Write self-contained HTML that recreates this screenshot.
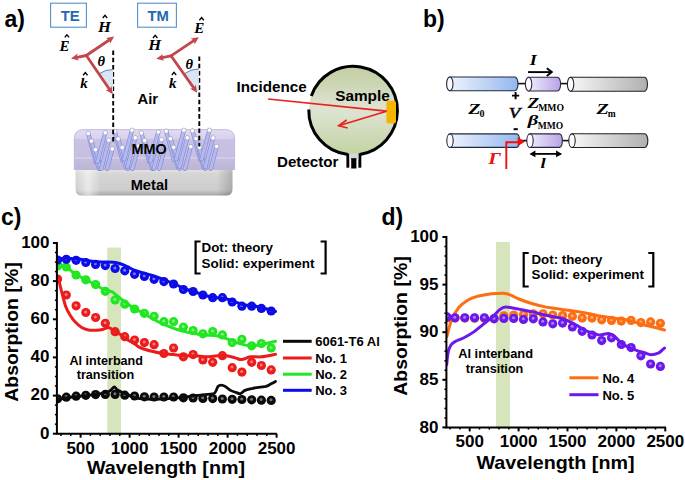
<!DOCTYPE html><html><head><meta charset="utf-8"><style>html,body{margin:0;padding:0;background:#fff;overflow:hidden}svg{display:block}</style></head><body>
<svg width="685" height="480" viewBox="0 0 685 480" font-family='"Liberation Sans", sans-serif'>
<rect width="685" height="480" fill="#fff"/>
<text x="4.5" y="27.1" font-size="23" fill="#000" font-weight="bold" text-anchor="start" >a)</text>
<text x="423" y="27.1" font-size="23" fill="#000" font-weight="bold" text-anchor="start" >b)</text>
<text x="1" y="225.4" font-size="23" fill="#000" font-weight="bold" text-anchor="start" >c)</text>
<text x="381.5" y="225.4" font-size="23" fill="#000" font-weight="bold" text-anchor="start" >d)</text>
<rect x="107.2" y="247.5" width="13.8" height="186.2" fill="#d7e5bc"/>
<defs><clipPath id="clipc"><rect x="56.4" y="230" width="232" height="210"/></clipPath><clipPath id="clipd"><rect x="445.9" y="225" width="232" height="210"/></clipPath></defs>
<g clip-path="url(#clipc)">
<circle cx="57.6" cy="398.8" r="4.6" fill="#0a0a0a"/>
<circle cx="66.3" cy="397.2" r="4.6" fill="#0a0a0a"/>
<circle cx="76.1" cy="396.2" r="4.6" fill="#0a0a0a"/>
<circle cx="85.8" cy="395.3" r="4.6" fill="#0a0a0a"/>
<circle cx="95.6" cy="394.6" r="4.6" fill="#0a0a0a"/>
<circle cx="105.3" cy="394.4" r="4.6" fill="#0a0a0a"/>
<circle cx="115.1" cy="394.4" r="4.6" fill="#0a0a0a"/>
<circle cx="124.8" cy="395.2" r="4.6" fill="#0a0a0a"/>
<circle cx="134.6" cy="396.0" r="4.6" fill="#0a0a0a"/>
<circle cx="144.4" cy="396.8" r="4.6" fill="#0a0a0a"/>
<circle cx="154.1" cy="397.0" r="4.6" fill="#0a0a0a"/>
<circle cx="163.9" cy="397.0" r="4.6" fill="#0a0a0a"/>
<circle cx="173.6" cy="397.0" r="4.6" fill="#0a0a0a"/>
<circle cx="183.4" cy="397.8" r="4.6" fill="#0a0a0a"/>
<circle cx="193.1" cy="398.0" r="4.6" fill="#0a0a0a"/>
<circle cx="202.9" cy="398.4" r="4.6" fill="#0a0a0a"/>
<circle cx="212.7" cy="398.6" r="4.6" fill="#0a0a0a"/>
<circle cx="222.4" cy="399.0" r="4.6" fill="#0a0a0a"/>
<circle cx="232.2" cy="399.3" r="4.6" fill="#0a0a0a"/>
<circle cx="241.9" cy="399.5" r="4.6" fill="#0a0a0a"/>
<circle cx="251.7" cy="399.8" r="4.6" fill="#0a0a0a"/>
<circle cx="261.4" cy="400.2" r="4.6" fill="#0a0a0a"/>
<circle cx="271.2" cy="400.4" r="4.6" fill="#0a0a0a"/>
<circle cx="57.4" cy="398.2" r="1.5" fill="#787878"/>
<circle cx="66.1" cy="396.6" r="1.5" fill="#787878"/>
<circle cx="75.9" cy="395.6" r="1.5" fill="#787878"/>
<circle cx="85.6" cy="394.7" r="1.5" fill="#787878"/>
<circle cx="95.4" cy="394.0" r="1.5" fill="#787878"/>
<circle cx="105.1" cy="393.8" r="1.5" fill="#787878"/>
<circle cx="114.9" cy="393.8" r="1.5" fill="#787878"/>
<circle cx="124.6" cy="394.6" r="1.5" fill="#787878"/>
<circle cx="134.4" cy="395.4" r="1.5" fill="#787878"/>
<circle cx="144.2" cy="396.2" r="1.5" fill="#787878"/>
<circle cx="153.9" cy="396.4" r="1.5" fill="#787878"/>
<circle cx="163.7" cy="396.4" r="1.5" fill="#787878"/>
<circle cx="173.4" cy="396.4" r="1.5" fill="#787878"/>
<circle cx="183.2" cy="397.2" r="1.5" fill="#787878"/>
<circle cx="192.9" cy="397.4" r="1.5" fill="#787878"/>
<circle cx="202.7" cy="397.8" r="1.5" fill="#787878"/>
<circle cx="212.5" cy="398.0" r="1.5" fill="#787878"/>
<circle cx="222.2" cy="398.4" r="1.5" fill="#787878"/>
<circle cx="232.0" cy="398.7" r="1.5" fill="#787878"/>
<circle cx="241.7" cy="398.9" r="1.5" fill="#787878"/>
<circle cx="251.5" cy="399.2" r="1.5" fill="#787878"/>
<circle cx="261.2" cy="399.6" r="1.5" fill="#787878"/>
<circle cx="271.0" cy="399.8" r="1.5" fill="#787878"/>
<path d="M57.5,399.5 C60.0,399.1 67.1,397.7 72.5,397.0 C77.9,396.3 84.5,395.9 90.0,395.2 C95.5,394.5 102.3,393.5 105.8,392.6 C109.3,391.7 109.6,391.0 111.0,390.0 C112.4,389.0 113.2,386.8 114.3,386.8 C115.4,386.8 115.7,388.9 117.5,390.0 C119.3,391.1 121.7,392.2 125.0,393.6 C128.3,395.0 132.9,397.2 137.3,398.2 C141.7,399.1 146.1,399.2 151.3,399.3 C156.6,399.4 163.2,399.0 168.8,398.6 C174.4,398.2 180.3,397.5 185.0,397.0 C189.7,396.5 193.2,395.9 197.0,395.5 C200.8,395.1 205.2,394.7 208.1,394.3 C211.0,393.9 213.0,394.3 214.7,393.0 C216.3,391.7 216.9,387.7 218.0,386.4 C219.1,385.1 220.1,385.1 221.3,385.1 C222.5,385.1 223.7,385.5 225.2,386.4 C226.7,387.3 228.8,389.4 230.5,390.4 C232.2,391.4 234.1,391.8 235.7,392.3 C237.3,392.9 238.8,394.0 240.3,393.7 C241.9,393.4 242.9,391.3 245.0,390.4 C247.1,389.5 250.2,388.9 252.8,388.4 C255.4,387.8 258.5,387.4 260.7,387.1 C262.9,386.8 264.2,386.9 266.0,386.4 C267.8,385.8 269.6,384.6 271.2,383.8 C272.8,383.0 274.8,381.9 275.5,381.5" fill="none" stroke="#0a0a0a" stroke-width="2.8" stroke-linejoin="round" stroke-linecap="round" />
<circle cx="57.6" cy="279.0" r="4.6" fill="#ec1c1c"/>
<circle cx="66.3" cy="295.0" r="4.6" fill="#ec1c1c"/>
<circle cx="76.1" cy="305.8" r="4.6" fill="#ec1c1c"/>
<circle cx="85.8" cy="312.5" r="4.6" fill="#ec1c1c"/>
<circle cx="95.6" cy="317.5" r="4.6" fill="#ec1c1c"/>
<circle cx="105.3" cy="323.3" r="4.6" fill="#ec1c1c"/>
<circle cx="115.1" cy="331.7" r="4.6" fill="#ec1c1c"/>
<circle cx="124.8" cy="336.7" r="4.6" fill="#ec1c1c"/>
<circle cx="134.6" cy="340.0" r="4.6" fill="#ec1c1c"/>
<circle cx="144.4" cy="342.6" r="4.6" fill="#ec1c1c"/>
<circle cx="154.1" cy="344.7" r="4.6" fill="#ec1c1c"/>
<circle cx="163.9" cy="353.5" r="4.6" fill="#ec1c1c"/>
<circle cx="173.6" cy="348.0" r="4.6" fill="#ec1c1c"/>
<circle cx="183.4" cy="356.8" r="4.6" fill="#ec1c1c"/>
<circle cx="193.1" cy="354.6" r="4.6" fill="#ec1c1c"/>
<circle cx="202.9" cy="360.0" r="4.6" fill="#ec1c1c"/>
<circle cx="212.7" cy="362.3" r="4.6" fill="#ec1c1c"/>
<circle cx="222.4" cy="355.7" r="4.6" fill="#ec1c1c"/>
<circle cx="232.2" cy="367.7" r="4.6" fill="#ec1c1c"/>
<circle cx="241.9" cy="372.1" r="4.6" fill="#ec1c1c"/>
<circle cx="251.7" cy="362.3" r="4.6" fill="#ec1c1c"/>
<circle cx="261.4" cy="365.5" r="4.6" fill="#ec1c1c"/>
<circle cx="271.2" cy="369.9" r="4.6" fill="#ec1c1c"/>
<circle cx="57.4" cy="278.4" r="1.5" fill="#f48282"/>
<circle cx="66.1" cy="294.4" r="1.5" fill="#f48282"/>
<circle cx="75.9" cy="305.2" r="1.5" fill="#f48282"/>
<circle cx="85.6" cy="311.9" r="1.5" fill="#f48282"/>
<circle cx="95.4" cy="316.9" r="1.5" fill="#f48282"/>
<circle cx="105.1" cy="322.7" r="1.5" fill="#f48282"/>
<circle cx="114.9" cy="331.1" r="1.5" fill="#f48282"/>
<circle cx="124.6" cy="336.1" r="1.5" fill="#f48282"/>
<circle cx="134.4" cy="339.4" r="1.5" fill="#f48282"/>
<circle cx="144.2" cy="342.0" r="1.5" fill="#f48282"/>
<circle cx="153.9" cy="344.1" r="1.5" fill="#f48282"/>
<circle cx="163.7" cy="352.9" r="1.5" fill="#f48282"/>
<circle cx="173.4" cy="347.4" r="1.5" fill="#f48282"/>
<circle cx="183.2" cy="356.2" r="1.5" fill="#f48282"/>
<circle cx="192.9" cy="354.0" r="1.5" fill="#f48282"/>
<circle cx="202.7" cy="359.4" r="1.5" fill="#f48282"/>
<circle cx="212.5" cy="361.7" r="1.5" fill="#f48282"/>
<circle cx="222.2" cy="355.1" r="1.5" fill="#f48282"/>
<circle cx="232.0" cy="367.1" r="1.5" fill="#f48282"/>
<circle cx="241.7" cy="371.5" r="1.5" fill="#f48282"/>
<circle cx="251.5" cy="361.7" r="1.5" fill="#f48282"/>
<circle cx="261.2" cy="364.9" r="1.5" fill="#f48282"/>
<circle cx="271.0" cy="369.3" r="1.5" fill="#f48282"/>
<path d="M58.3,276.7 C58.6,278.1 59.3,281.9 60.0,285.0 C60.7,288.1 61.5,291.4 62.5,295.0 C63.5,298.6 64.5,303.4 65.8,306.7 C67.0,310.0 68.5,312.5 70.0,315.0 C71.5,317.5 73.0,319.6 75.0,321.7 C77.0,323.8 79.5,326.1 81.7,327.5 C83.9,328.9 85.8,329.5 88.3,330.0 C90.8,330.5 94.2,330.4 96.7,330.3 C99.2,330.2 101.4,329.7 103.3,329.2 C105.2,328.7 106.6,327.4 108.3,327.5 C110.0,327.6 111.3,328.9 113.3,330.0 C115.2,331.1 117.8,332.7 120.0,334.2 C122.2,335.7 124.2,337.5 126.7,339.2 C129.2,340.9 132.6,342.7 135.0,344.2 C137.4,345.7 138.2,346.8 141.0,348.0 C143.8,349.2 148.3,350.4 151.9,351.3 C155.5,352.2 159.2,352.9 162.8,353.5 C166.5,354.1 170.2,354.2 173.8,354.6 C177.5,355.0 181.0,355.5 184.7,355.7 C188.3,355.9 192.0,355.5 195.7,355.7 C199.3,355.9 202.9,356.8 206.6,356.8 C210.2,356.8 214.3,355.9 217.6,355.7 C220.9,355.5 223.4,355.3 226.3,355.7 C229.2,356.1 232.5,357.2 235.1,357.9 C237.7,358.5 239.1,359.8 241.7,359.6 C244.2,359.4 247.1,357.3 250.4,356.8 C253.7,356.3 257.2,357.2 261.4,356.8 C265.6,356.4 273.1,354.7 275.5,354.3" fill="none" stroke="#ec1c1c" stroke-width="3" stroke-linejoin="round" stroke-linecap="round" />
<circle cx="57.6" cy="266.0" r="4.6" fill="#22e622"/>
<circle cx="66.3" cy="267.0" r="4.6" fill="#22e622"/>
<circle cx="76.1" cy="275.0" r="4.6" fill="#22e622"/>
<circle cx="85.8" cy="279.8" r="4.6" fill="#22e622"/>
<circle cx="95.6" cy="284.6" r="4.6" fill="#22e622"/>
<circle cx="105.3" cy="291.3" r="4.6" fill="#22e622"/>
<circle cx="115.1" cy="300.0" r="4.6" fill="#22e622"/>
<circle cx="124.8" cy="304.2" r="4.6" fill="#22e622"/>
<circle cx="134.6" cy="309.0" r="4.6" fill="#22e622"/>
<circle cx="144.4" cy="313.3" r="4.6" fill="#22e622"/>
<circle cx="154.1" cy="316.3" r="4.6" fill="#22e622"/>
<circle cx="163.9" cy="321.7" r="4.6" fill="#22e622"/>
<circle cx="173.6" cy="321.7" r="4.6" fill="#22e622"/>
<circle cx="183.4" cy="327.2" r="4.6" fill="#22e622"/>
<circle cx="193.1" cy="330.5" r="4.6" fill="#22e622"/>
<circle cx="202.9" cy="333.8" r="4.6" fill="#22e622"/>
<circle cx="212.7" cy="331.6" r="4.6" fill="#22e622"/>
<circle cx="222.4" cy="334.9" r="4.6" fill="#22e622"/>
<circle cx="232.2" cy="342.6" r="4.6" fill="#22e622"/>
<circle cx="241.9" cy="339.3" r="4.6" fill="#22e622"/>
<circle cx="251.7" cy="345.8" r="4.6" fill="#22e622"/>
<circle cx="261.4" cy="343.6" r="4.6" fill="#22e622"/>
<circle cx="271.2" cy="348.0" r="4.6" fill="#22e622"/>
<circle cx="57.4" cy="265.4" r="1.5" fill="#85f185"/>
<circle cx="66.1" cy="266.4" r="1.5" fill="#85f185"/>
<circle cx="75.9" cy="274.4" r="1.5" fill="#85f185"/>
<circle cx="85.6" cy="279.2" r="1.5" fill="#85f185"/>
<circle cx="95.4" cy="284.0" r="1.5" fill="#85f185"/>
<circle cx="105.1" cy="290.7" r="1.5" fill="#85f185"/>
<circle cx="114.9" cy="299.4" r="1.5" fill="#85f185"/>
<circle cx="124.6" cy="303.6" r="1.5" fill="#85f185"/>
<circle cx="134.4" cy="308.4" r="1.5" fill="#85f185"/>
<circle cx="144.2" cy="312.7" r="1.5" fill="#85f185"/>
<circle cx="153.9" cy="315.7" r="1.5" fill="#85f185"/>
<circle cx="163.7" cy="321.1" r="1.5" fill="#85f185"/>
<circle cx="173.4" cy="321.1" r="1.5" fill="#85f185"/>
<circle cx="183.2" cy="326.6" r="1.5" fill="#85f185"/>
<circle cx="192.9" cy="329.9" r="1.5" fill="#85f185"/>
<circle cx="202.7" cy="333.2" r="1.5" fill="#85f185"/>
<circle cx="212.5" cy="331.0" r="1.5" fill="#85f185"/>
<circle cx="222.2" cy="334.3" r="1.5" fill="#85f185"/>
<circle cx="232.0" cy="342.0" r="1.5" fill="#85f185"/>
<circle cx="241.7" cy="338.7" r="1.5" fill="#85f185"/>
<circle cx="251.5" cy="345.2" r="1.5" fill="#85f185"/>
<circle cx="261.2" cy="343.0" r="1.5" fill="#85f185"/>
<circle cx="271.0" cy="347.4" r="1.5" fill="#85f185"/>
<path d="M57.5,266.0 C58.1,265.8 59.4,264.6 61.0,264.8 C62.6,265.0 64.7,265.5 67.0,267.0 C69.3,268.5 71.5,271.7 75.0,274.0 C78.5,276.3 83.6,278.3 88.3,280.8 C93.0,283.3 99.4,287.4 103.3,289.2 C107.2,291.0 109.2,290.4 111.7,291.7 C114.2,292.9 115.8,294.8 118.3,296.7 C120.8,298.6 123.9,301.2 126.7,303.3 C129.5,305.4 132.6,307.6 135.0,309.0 C137.4,310.4 138.2,310.3 141.0,311.9 C143.8,313.5 148.3,316.5 151.9,318.5 C155.5,320.5 159.2,322.3 162.8,323.9 C166.5,325.5 170.2,327.0 173.8,328.3 C177.5,329.6 181.0,330.7 184.7,331.6 C188.3,332.5 192.0,333.2 195.7,333.8 C199.3,334.4 202.9,334.5 206.6,334.9 C210.2,335.3 213.9,335.3 217.6,336.0 C221.2,336.7 224.8,338.0 228.5,339.3 C232.2,340.6 235.8,342.5 239.5,343.6 C243.2,344.7 246.8,345.6 250.4,345.8 C254.1,346.0 257.2,345.4 261.4,344.7 C265.6,343.9 273.1,341.9 275.5,341.3" fill="none" stroke="#22e622" stroke-width="3" stroke-linejoin="round" stroke-linecap="round" />
<circle cx="57.6" cy="260.0" r="4.6" fill="#0c0ce8"/>
<circle cx="66.3" cy="259.3" r="4.6" fill="#0c0ce8"/>
<circle cx="76.1" cy="260.3" r="4.6" fill="#0c0ce8"/>
<circle cx="85.8" cy="262.5" r="4.6" fill="#0c0ce8"/>
<circle cx="95.6" cy="264.4" r="4.6" fill="#0c0ce8"/>
<circle cx="105.3" cy="265.6" r="4.6" fill="#0c0ce8"/>
<circle cx="115.1" cy="268.5" r="4.6" fill="#0c0ce8"/>
<circle cx="124.8" cy="270.8" r="4.6" fill="#0c0ce8"/>
<circle cx="134.6" cy="274.3" r="4.6" fill="#0c0ce8"/>
<circle cx="144.4" cy="276.4" r="4.6" fill="#0c0ce8"/>
<circle cx="154.1" cy="279.3" r="4.6" fill="#0c0ce8"/>
<circle cx="163.9" cy="281.6" r="4.6" fill="#0c0ce8"/>
<circle cx="173.6" cy="284.0" r="4.6" fill="#0c0ce8"/>
<circle cx="183.4" cy="289.5" r="4.6" fill="#0c0ce8"/>
<circle cx="193.1" cy="291.5" r="4.6" fill="#0c0ce8"/>
<circle cx="202.9" cy="295.0" r="4.6" fill="#0c0ce8"/>
<circle cx="212.7" cy="297.7" r="4.6" fill="#0c0ce8"/>
<circle cx="222.4" cy="297.7" r="4.6" fill="#0c0ce8"/>
<circle cx="232.2" cy="302.0" r="4.6" fill="#0c0ce8"/>
<circle cx="241.9" cy="306.2" r="4.6" fill="#0c0ce8"/>
<circle cx="251.7" cy="306.2" r="4.6" fill="#0c0ce8"/>
<circle cx="261.4" cy="308.4" r="4.6" fill="#0c0ce8"/>
<circle cx="271.2" cy="311.0" r="4.6" fill="#0c0ce8"/>
<circle cx="57.4" cy="259.4" r="1.5" fill="#7979f2"/>
<circle cx="66.1" cy="258.7" r="1.5" fill="#7979f2"/>
<circle cx="75.9" cy="259.7" r="1.5" fill="#7979f2"/>
<circle cx="85.6" cy="261.9" r="1.5" fill="#7979f2"/>
<circle cx="95.4" cy="263.8" r="1.5" fill="#7979f2"/>
<circle cx="105.1" cy="265.0" r="1.5" fill="#7979f2"/>
<circle cx="114.9" cy="267.9" r="1.5" fill="#7979f2"/>
<circle cx="124.6" cy="270.2" r="1.5" fill="#7979f2"/>
<circle cx="134.4" cy="273.7" r="1.5" fill="#7979f2"/>
<circle cx="144.2" cy="275.8" r="1.5" fill="#7979f2"/>
<circle cx="153.9" cy="278.7" r="1.5" fill="#7979f2"/>
<circle cx="163.7" cy="281.0" r="1.5" fill="#7979f2"/>
<circle cx="173.4" cy="283.4" r="1.5" fill="#7979f2"/>
<circle cx="183.2" cy="288.9" r="1.5" fill="#7979f2"/>
<circle cx="192.9" cy="290.9" r="1.5" fill="#7979f2"/>
<circle cx="202.7" cy="294.4" r="1.5" fill="#7979f2"/>
<circle cx="212.5" cy="297.1" r="1.5" fill="#7979f2"/>
<circle cx="222.2" cy="297.1" r="1.5" fill="#7979f2"/>
<circle cx="232.0" cy="301.4" r="1.5" fill="#7979f2"/>
<circle cx="241.7" cy="305.6" r="1.5" fill="#7979f2"/>
<circle cx="251.5" cy="305.6" r="1.5" fill="#7979f2"/>
<circle cx="261.2" cy="307.8" r="1.5" fill="#7979f2"/>
<circle cx="271.0" cy="310.4" r="1.5" fill="#7979f2"/>
<path d="M57.5,259.0 C59.0,258.9 63.2,258.2 66.7,258.2 C70.2,258.2 74.5,258.7 78.4,259.1 C82.3,259.6 86.1,260.4 90.0,260.9 C93.9,261.4 97.8,261.8 101.7,262.0 C105.6,262.2 110.3,262.0 113.4,262.3 C116.5,262.6 118.1,263.1 120.4,263.8 C122.7,264.5 125.0,265.6 127.4,266.7 C129.8,267.8 132.1,269.4 135.0,270.5 C137.9,271.6 141.7,272.5 145.0,273.5 C148.3,274.5 151.7,275.4 155.0,276.5 C158.3,277.6 161.7,278.9 165.0,280.2 C168.3,281.4 171.7,282.5 175.0,284.0 C178.3,285.5 181.7,287.7 185.0,289.0 C188.3,290.3 191.7,290.9 195.0,292.0 C198.3,293.1 201.7,294.6 205.0,295.5 C208.3,296.4 211.7,297.0 215.0,297.5 C218.3,298.0 221.7,297.8 225.0,298.5 C228.3,299.2 231.7,300.9 235.0,302.0 C238.3,303.1 241.7,304.3 245.0,305.0 C248.3,305.7 251.7,305.4 255.0,306.0 C258.3,306.6 261.6,307.6 265.0,308.5 C268.4,309.4 273.8,311.0 275.5,311.5" fill="none" stroke="#0c0ce8" stroke-width="3" stroke-linejoin="round" stroke-linecap="round" />
</g>
<path d="M56.9,242.0 V433.7 H276.8" fill="none" stroke="#000" stroke-width="2"/>
<line x1="52.9" y1="433.7" x2="56.9" y2="433.7" stroke="#000" stroke-width="2"/>
<text x="49.5" y="438.59999999999997" font-size="17" fill="#000" font-weight="bold" text-anchor="end" >0</text>
<line x1="52.9" y1="395.6" x2="56.9" y2="395.6" stroke="#000" stroke-width="2"/>
<text x="49.5" y="400.46" font-size="17" fill="#000" font-weight="bold" text-anchor="end" >20</text>
<line x1="52.9" y1="357.4" x2="56.9" y2="357.4" stroke="#000" stroke-width="2"/>
<text x="49.5" y="362.31999999999994" font-size="17" fill="#000" font-weight="bold" text-anchor="end" >40</text>
<line x1="52.9" y1="319.3" x2="56.9" y2="319.3" stroke="#000" stroke-width="2"/>
<text x="49.5" y="324.17999999999995" font-size="17" fill="#000" font-weight="bold" text-anchor="end" >60</text>
<line x1="52.9" y1="281.1" x2="56.9" y2="281.1" stroke="#000" stroke-width="2"/>
<text x="49.5" y="286.03999999999996" font-size="17" fill="#000" font-weight="bold" text-anchor="end" >80</text>
<line x1="52.9" y1="243.0" x2="56.9" y2="243.0" stroke="#000" stroke-width="2"/>
<text x="49.5" y="247.9" font-size="17" fill="#000" font-weight="bold" text-anchor="end" >100</text>
<line x1="54.9" y1="424.2" x2="56.9" y2="424.2" stroke="#000" stroke-width="1.5"/>
<line x1="54.9" y1="414.6" x2="56.9" y2="414.6" stroke="#000" stroke-width="1.5"/>
<line x1="54.9" y1="405.1" x2="56.9" y2="405.1" stroke="#000" stroke-width="1.5"/>
<line x1="54.9" y1="386.0" x2="56.9" y2="386.0" stroke="#000" stroke-width="1.5"/>
<line x1="54.9" y1="376.5" x2="56.9" y2="376.5" stroke="#000" stroke-width="1.5"/>
<line x1="54.9" y1="367.0" x2="56.9" y2="367.0" stroke="#000" stroke-width="1.5"/>
<line x1="54.9" y1="347.9" x2="56.9" y2="347.9" stroke="#000" stroke-width="1.5"/>
<line x1="54.9" y1="338.4" x2="56.9" y2="338.4" stroke="#000" stroke-width="1.5"/>
<line x1="54.9" y1="328.8" x2="56.9" y2="328.8" stroke="#000" stroke-width="1.5"/>
<line x1="54.9" y1="309.7" x2="56.9" y2="309.7" stroke="#000" stroke-width="1.5"/>
<line x1="54.9" y1="300.2" x2="56.9" y2="300.2" stroke="#000" stroke-width="1.5"/>
<line x1="54.9" y1="290.7" x2="56.9" y2="290.7" stroke="#000" stroke-width="1.5"/>
<line x1="54.9" y1="271.6" x2="56.9" y2="271.6" stroke="#000" stroke-width="1.5"/>
<line x1="54.9" y1="262.1" x2="56.9" y2="262.1" stroke="#000" stroke-width="1.5"/>
<line x1="54.9" y1="252.5" x2="56.9" y2="252.5" stroke="#000" stroke-width="1.5"/>
<line x1="61.0" y1="433.7" x2="61.0" y2="435.9" stroke="#000" stroke-width="1.5"/>
<line x1="70.8" y1="433.7" x2="70.8" y2="435.9" stroke="#000" stroke-width="1.5"/>
<line x1="80.6" y1="433.7" x2="80.6" y2="437.7" stroke="#000" stroke-width="2"/>
<text x="80.6" y="453.5" font-size="17" fill="#000" font-weight="bold" text-anchor="middle" >500</text>
<line x1="90.4" y1="433.7" x2="90.4" y2="435.9" stroke="#000" stroke-width="1.5"/>
<line x1="100.2" y1="433.7" x2="100.2" y2="435.9" stroke="#000" stroke-width="1.5"/>
<line x1="110.0" y1="433.7" x2="110.0" y2="435.9" stroke="#000" stroke-width="1.5"/>
<line x1="119.8" y1="433.7" x2="119.8" y2="435.9" stroke="#000" stroke-width="1.5"/>
<line x1="129.6" y1="433.7" x2="129.6" y2="437.7" stroke="#000" stroke-width="2"/>
<text x="129.6" y="453.5" font-size="17" fill="#000" font-weight="bold" text-anchor="middle" >1000</text>
<line x1="139.4" y1="433.7" x2="139.4" y2="435.9" stroke="#000" stroke-width="1.5"/>
<line x1="149.2" y1="433.7" x2="149.2" y2="435.9" stroke="#000" stroke-width="1.5"/>
<line x1="159.0" y1="433.7" x2="159.0" y2="435.9" stroke="#000" stroke-width="1.5"/>
<line x1="168.8" y1="433.7" x2="168.8" y2="435.9" stroke="#000" stroke-width="1.5"/>
<line x1="178.6" y1="433.7" x2="178.6" y2="437.7" stroke="#000" stroke-width="2"/>
<text x="178.6" y="453.5" font-size="17" fill="#000" font-weight="bold" text-anchor="middle" >1500</text>
<line x1="188.4" y1="433.7" x2="188.4" y2="435.9" stroke="#000" stroke-width="1.5"/>
<line x1="198.2" y1="433.7" x2="198.2" y2="435.9" stroke="#000" stroke-width="1.5"/>
<line x1="208.0" y1="433.7" x2="208.0" y2="435.9" stroke="#000" stroke-width="1.5"/>
<line x1="217.8" y1="433.7" x2="217.8" y2="435.9" stroke="#000" stroke-width="1.5"/>
<line x1="227.6" y1="433.7" x2="227.6" y2="437.7" stroke="#000" stroke-width="2"/>
<text x="227.6" y="453.5" font-size="17" fill="#000" font-weight="bold" text-anchor="middle" >2000</text>
<line x1="237.4" y1="433.7" x2="237.4" y2="435.9" stroke="#000" stroke-width="1.5"/>
<line x1="247.2" y1="433.7" x2="247.2" y2="435.9" stroke="#000" stroke-width="1.5"/>
<line x1="257.0" y1="433.7" x2="257.0" y2="435.9" stroke="#000" stroke-width="1.5"/>
<line x1="266.8" y1="433.7" x2="266.8" y2="435.9" stroke="#000" stroke-width="1.5"/>
<line x1="276.6" y1="433.7" x2="276.6" y2="437.7" stroke="#000" stroke-width="2"/>
<text x="276.6" y="453.5" font-size="17" fill="#000" font-weight="bold" text-anchor="middle" >2500</text>
<text x="87" y="473.5" font-size="19" fill="#000" font-weight="bold" text-anchor="start" textLength="158" lengthAdjust="spacingAndGlyphs" >Wavelength [nm]</text>
<g transform="translate(18.2,401.8) rotate(-90)"><text x="0" y="0" font-size="19" fill="#000" font-weight="bold" text-anchor="start" textLength="139.5" lengthAdjust="spacingAndGlyphs" >Absorption [%]</text></g>
<path d="M200.6,241.5 H195.6 V273.5 H200.6" fill="none" stroke="#000" stroke-width="2.2"/><path d="M320.6,241.5 H325.6 V273.5 H320.6" fill="none" stroke="#000" stroke-width="2.2"/>
<text x="201.5" y="252.3" font-size="13" fill="#000" font-weight="bold" text-anchor="start" textLength="71.5" lengthAdjust="spacingAndGlyphs" >Dot: theory</text>
<text x="201.5" y="268.3" font-size="13" fill="#000" font-weight="bold" text-anchor="start" textLength="113" lengthAdjust="spacingAndGlyphs" >Solid: experiment</text>
<text x="69.5" y="364.5" font-size="12.6" fill="#000" font-weight="bold" text-anchor="start" textLength="73.5" lengthAdjust="spacingAndGlyphs" >Al interband</text>
<text x="76.7" y="379" font-size="12.6" fill="#000" font-weight="bold" text-anchor="start" textLength="57.5" lengthAdjust="spacingAndGlyphs" >transition</text>
<line x1="283" y1="341.3" x2="311.7" y2="341.3" stroke="#0a0a0a" stroke-width="3"/>
<text x="315.2" y="346.0" font-size="13" fill="#000" font-weight="bold" text-anchor="start" >6061-T6 Al</text>
<line x1="283" y1="358" x2="311.7" y2="358" stroke="#ec1c1c" stroke-width="3"/>
<text x="315.2" y="362.7" font-size="13" fill="#000" font-weight="bold" text-anchor="start" >No. 1</text>
<line x1="283" y1="374.2" x2="311.7" y2="374.2" stroke="#22e622" stroke-width="3"/>
<text x="315.2" y="378.9" font-size="13" fill="#000" font-weight="bold" text-anchor="start" >No. 2</text>
<line x1="283" y1="390.3" x2="311.7" y2="390.3" stroke="#0c0ce8" stroke-width="3"/>
<text x="315.2" y="395.0" font-size="13" fill="#000" font-weight="bold" text-anchor="start" >No. 3</text>
<rect x="496.0" y="241.9" width="13.9" height="186.4" fill="#d7e5bc"/>
<g clip-path="url(#clipd)">
<circle cx="447.0" cy="318.0" r="4.6" fill="#fd6e12"/>
<circle cx="455.0" cy="318.0" r="4.6" fill="#fd6e12"/>
<circle cx="464.8" cy="318.0" r="4.6" fill="#fd6e12"/>
<circle cx="474.6" cy="318.2" r="4.6" fill="#fd6e12"/>
<circle cx="484.4" cy="318.3" r="4.6" fill="#fd6e12"/>
<circle cx="494.1" cy="318.3" r="4.6" fill="#fd6e12"/>
<circle cx="503.9" cy="315.8" r="4.6" fill="#fd6e12"/>
<circle cx="513.7" cy="315.0" r="4.6" fill="#fd6e12"/>
<circle cx="523.5" cy="314.4" r="4.6" fill="#fd6e12"/>
<circle cx="533.3" cy="313.8" r="4.6" fill="#fd6e12"/>
<circle cx="543.0" cy="313.8" r="4.6" fill="#fd6e12"/>
<circle cx="552.8" cy="315.0" r="4.6" fill="#fd6e12"/>
<circle cx="562.6" cy="315.6" r="4.6" fill="#fd6e12"/>
<circle cx="572.4" cy="316.3" r="4.6" fill="#fd6e12"/>
<circle cx="582.2" cy="318.1" r="4.6" fill="#fd6e12"/>
<circle cx="592.0" cy="318.1" r="4.6" fill="#fd6e12"/>
<circle cx="601.7" cy="319.8" r="4.6" fill="#fd6e12"/>
<circle cx="611.5" cy="320.4" r="4.6" fill="#fd6e12"/>
<circle cx="621.3" cy="321.1" r="4.6" fill="#fd6e12"/>
<circle cx="631.1" cy="320.4" r="4.6" fill="#fd6e12"/>
<circle cx="640.9" cy="322.6" r="4.6" fill="#fd6e12"/>
<circle cx="650.6" cy="321.9" r="4.6" fill="#fd6e12"/>
<circle cx="660.4" cy="323.3" r="4.6" fill="#fd6e12"/>
<circle cx="446.8" cy="317.4" r="1.5" fill="#fdaf7c"/>
<circle cx="454.8" cy="317.4" r="1.5" fill="#fdaf7c"/>
<circle cx="464.6" cy="317.4" r="1.5" fill="#fdaf7c"/>
<circle cx="474.4" cy="317.6" r="1.5" fill="#fdaf7c"/>
<circle cx="484.2" cy="317.7" r="1.5" fill="#fdaf7c"/>
<circle cx="493.9" cy="317.7" r="1.5" fill="#fdaf7c"/>
<circle cx="503.7" cy="315.2" r="1.5" fill="#fdaf7c"/>
<circle cx="513.5" cy="314.4" r="1.5" fill="#fdaf7c"/>
<circle cx="523.3" cy="313.8" r="1.5" fill="#fdaf7c"/>
<circle cx="533.1" cy="313.2" r="1.5" fill="#fdaf7c"/>
<circle cx="542.8" cy="313.2" r="1.5" fill="#fdaf7c"/>
<circle cx="552.6" cy="314.4" r="1.5" fill="#fdaf7c"/>
<circle cx="562.4" cy="315.0" r="1.5" fill="#fdaf7c"/>
<circle cx="572.2" cy="315.7" r="1.5" fill="#fdaf7c"/>
<circle cx="582.0" cy="317.5" r="1.5" fill="#fdaf7c"/>
<circle cx="591.8" cy="317.5" r="1.5" fill="#fdaf7c"/>
<circle cx="601.5" cy="319.2" r="1.5" fill="#fdaf7c"/>
<circle cx="611.3" cy="319.8" r="1.5" fill="#fdaf7c"/>
<circle cx="621.1" cy="320.5" r="1.5" fill="#fdaf7c"/>
<circle cx="630.9" cy="319.8" r="1.5" fill="#fdaf7c"/>
<circle cx="640.6" cy="322.0" r="1.5" fill="#fdaf7c"/>
<circle cx="650.4" cy="321.3" r="1.5" fill="#fdaf7c"/>
<circle cx="660.2" cy="322.7" r="1.5" fill="#fdaf7c"/>
<path d="M446.8,336.6 C447.6,334.0 449.3,325.6 451.3,320.7 C453.3,315.8 456.0,310.9 458.8,307.5 C461.6,304.1 465.0,301.9 468.1,300.0 C471.2,298.1 474.4,297.2 477.5,296.3 C480.6,295.4 483.8,294.9 486.9,294.4 C490.0,293.9 493.2,293.6 496.3,293.5 C499.4,293.4 503.2,293.2 505.7,293.5 C508.2,293.8 509.1,294.4 511.3,295.3 C513.5,296.2 515.3,297.6 518.8,299.0 C522.3,300.4 528.1,302.4 532.5,303.8 C536.9,305.1 540.8,306.1 545.0,306.9 C549.2,307.7 553.3,308.1 557.5,308.8 C561.7,309.4 565.8,310.0 570.0,310.6 C574.2,311.2 578.3,311.8 582.5,312.5 C586.7,313.2 592.1,314.4 595.0,315.0 C597.9,315.6 596.7,315.5 600.0,316.0 C603.3,316.5 609.7,317.5 614.6,318.2 C619.5,318.9 624.4,319.3 629.2,320.4 C634.1,321.5 638.9,323.5 643.7,324.8 C648.6,326.1 654.8,327.5 658.3,328.4 C661.8,329.3 663.5,329.7 664.5,330.0" fill="none" stroke="#fd6e12" stroke-width="3" stroke-linejoin="round" stroke-linecap="round" />
<circle cx="447.0" cy="316.9" r="4.6" fill="#6a18ec"/>
<circle cx="455.0" cy="317.8" r="4.6" fill="#6a18ec"/>
<circle cx="464.8" cy="317.8" r="4.6" fill="#6a18ec"/>
<circle cx="474.6" cy="317.8" r="4.6" fill="#6a18ec"/>
<circle cx="484.4" cy="317.8" r="4.6" fill="#6a18ec"/>
<circle cx="494.1" cy="318.8" r="4.6" fill="#6a18ec"/>
<circle cx="503.9" cy="318.4" r="4.6" fill="#6a18ec"/>
<circle cx="513.7" cy="318.4" r="4.6" fill="#6a18ec"/>
<circle cx="523.5" cy="319.4" r="4.6" fill="#6a18ec"/>
<circle cx="533.3" cy="318.8" r="4.6" fill="#6a18ec"/>
<circle cx="543.0" cy="321.9" r="4.6" fill="#6a18ec"/>
<circle cx="552.8" cy="323.8" r="4.6" fill="#6a18ec"/>
<circle cx="562.6" cy="323.1" r="4.6" fill="#6a18ec"/>
<circle cx="572.4" cy="326.9" r="4.6" fill="#6a18ec"/>
<circle cx="582.2" cy="331.3" r="4.6" fill="#6a18ec"/>
<circle cx="592.0" cy="335.0" r="4.6" fill="#6a18ec"/>
<circle cx="601.7" cy="340.6" r="4.6" fill="#6a18ec"/>
<circle cx="611.5" cy="337.8" r="4.6" fill="#6a18ec"/>
<circle cx="621.3" cy="344.5" r="4.6" fill="#6a18ec"/>
<circle cx="631.1" cy="347.6" r="4.6" fill="#6a18ec"/>
<circle cx="640.9" cy="355.8" r="4.6" fill="#6a18ec"/>
<circle cx="650.6" cy="364.0" r="4.6" fill="#6a18ec"/>
<circle cx="660.4" cy="366.4" r="4.6" fill="#6a18ec"/>
<circle cx="446.8" cy="316.3" r="1.5" fill="#ad7ff4"/>
<circle cx="454.8" cy="317.2" r="1.5" fill="#ad7ff4"/>
<circle cx="464.6" cy="317.2" r="1.5" fill="#ad7ff4"/>
<circle cx="474.4" cy="317.2" r="1.5" fill="#ad7ff4"/>
<circle cx="484.2" cy="317.2" r="1.5" fill="#ad7ff4"/>
<circle cx="493.9" cy="318.2" r="1.5" fill="#ad7ff4"/>
<circle cx="503.7" cy="317.8" r="1.5" fill="#ad7ff4"/>
<circle cx="513.5" cy="317.8" r="1.5" fill="#ad7ff4"/>
<circle cx="523.3" cy="318.8" r="1.5" fill="#ad7ff4"/>
<circle cx="533.1" cy="318.2" r="1.5" fill="#ad7ff4"/>
<circle cx="542.8" cy="321.3" r="1.5" fill="#ad7ff4"/>
<circle cx="552.6" cy="323.2" r="1.5" fill="#ad7ff4"/>
<circle cx="562.4" cy="322.5" r="1.5" fill="#ad7ff4"/>
<circle cx="572.2" cy="326.3" r="1.5" fill="#ad7ff4"/>
<circle cx="582.0" cy="330.7" r="1.5" fill="#ad7ff4"/>
<circle cx="591.8" cy="334.4" r="1.5" fill="#ad7ff4"/>
<circle cx="601.5" cy="340.0" r="1.5" fill="#ad7ff4"/>
<circle cx="611.3" cy="337.2" r="1.5" fill="#ad7ff4"/>
<circle cx="621.1" cy="343.9" r="1.5" fill="#ad7ff4"/>
<circle cx="630.9" cy="347.0" r="1.5" fill="#ad7ff4"/>
<circle cx="640.6" cy="355.2" r="1.5" fill="#ad7ff4"/>
<circle cx="650.4" cy="363.4" r="1.5" fill="#ad7ff4"/>
<circle cx="660.2" cy="365.8" r="1.5" fill="#ad7ff4"/>
<path d="M446.7,364.5 C446.9,362.4 447.5,355.2 448.2,352.0 C448.9,348.8 449.7,346.9 450.8,345.2 C451.9,343.5 452.7,342.9 455.0,341.6 C457.3,340.3 461.3,339.1 464.4,337.5 C467.5,335.9 470.7,334.1 473.8,331.9 C476.9,329.7 480.1,326.9 483.2,324.4 C486.3,321.9 489.7,319.4 492.5,316.9 C495.3,314.4 497.8,311.0 500.0,309.4 C502.2,307.8 503.2,307.2 505.7,307.1 C508.2,307.0 512.6,308.1 515.0,308.5 C517.4,308.9 517.1,308.8 520.0,309.4 C522.9,310.0 528.3,311.0 532.5,311.9 C536.7,312.8 540.8,314.1 545.0,315.0 C549.2,315.9 554.4,316.9 557.5,317.5 C560.6,318.1 561.7,318.0 563.8,318.8 C565.8,319.5 567.9,320.9 570.0,321.9 C572.1,322.9 574.2,323.9 576.2,325.0 C578.3,326.1 580.4,327.6 582.5,328.8 C584.6,329.9 586.7,331.1 588.8,331.9 C590.8,332.7 593.1,333.2 595.0,333.8 C596.9,334.3 597.7,335.0 600.0,335.0 C602.3,335.0 606.3,333.3 608.7,333.5 C611.1,333.7 612.4,334.7 614.6,336.4 C616.8,338.1 619.5,341.9 621.9,343.7 C624.3,345.5 626.8,346.3 629.2,347.4 C631.6,348.5 634.0,349.4 636.4,350.3 C638.8,351.2 641.3,351.8 643.7,352.5 C646.1,353.2 648.6,354.6 651.0,354.7 C653.4,354.8 656.3,354.0 658.3,353.2 C660.2,352.4 661.7,350.5 662.7,349.6 C663.7,348.7 664.2,348.3 664.5,348.0" fill="none" stroke="#6a18ec" stroke-width="3" stroke-linejoin="round" stroke-linecap="round" />
</g>
<path d="M446.4,236.0 V427.4 H666.0" fill="none" stroke="#000" stroke-width="2"/>
<line x1="442.4" y1="427.4" x2="446.4" y2="427.4" stroke="#000" stroke-width="2"/>
<text x="438.5" y="432.59999999999997" font-size="17" fill="#000" font-weight="bold" text-anchor="end" >80</text>
<line x1="442.4" y1="379.8" x2="446.4" y2="379.8" stroke="#000" stroke-width="2"/>
<text x="438.5" y="384.99999999999994" font-size="17" fill="#000" font-weight="bold" text-anchor="end" >85</text>
<line x1="442.4" y1="332.2" x2="446.4" y2="332.2" stroke="#000" stroke-width="2"/>
<text x="438.5" y="337.4" font-size="17" fill="#000" font-weight="bold" text-anchor="end" >90</text>
<line x1="442.4" y1="284.6" x2="446.4" y2="284.6" stroke="#000" stroke-width="2"/>
<text x="438.5" y="289.8" font-size="17" fill="#000" font-weight="bold" text-anchor="end" >95</text>
<line x1="442.4" y1="237.0" x2="446.4" y2="237.0" stroke="#000" stroke-width="2"/>
<text x="438.5" y="242.2" font-size="17" fill="#000" font-weight="bold" text-anchor="end" >100</text>
<line x1="444.4" y1="417.9" x2="446.4" y2="417.9" stroke="#000" stroke-width="1.5"/>
<line x1="444.4" y1="408.4" x2="446.4" y2="408.4" stroke="#000" stroke-width="1.5"/>
<line x1="444.4" y1="398.8" x2="446.4" y2="398.8" stroke="#000" stroke-width="1.5"/>
<line x1="444.4" y1="389.3" x2="446.4" y2="389.3" stroke="#000" stroke-width="1.5"/>
<line x1="444.4" y1="370.3" x2="446.4" y2="370.3" stroke="#000" stroke-width="1.5"/>
<line x1="444.4" y1="360.8" x2="446.4" y2="360.8" stroke="#000" stroke-width="1.5"/>
<line x1="444.4" y1="351.2" x2="446.4" y2="351.2" stroke="#000" stroke-width="1.5"/>
<line x1="444.4" y1="341.7" x2="446.4" y2="341.7" stroke="#000" stroke-width="1.5"/>
<line x1="444.4" y1="322.7" x2="446.4" y2="322.7" stroke="#000" stroke-width="1.5"/>
<line x1="444.4" y1="313.2" x2="446.4" y2="313.2" stroke="#000" stroke-width="1.5"/>
<line x1="444.4" y1="303.6" x2="446.4" y2="303.6" stroke="#000" stroke-width="1.5"/>
<line x1="444.4" y1="294.1" x2="446.4" y2="294.1" stroke="#000" stroke-width="1.5"/>
<line x1="444.4" y1="275.1" x2="446.4" y2="275.1" stroke="#000" stroke-width="1.5"/>
<line x1="444.4" y1="265.6" x2="446.4" y2="265.6" stroke="#000" stroke-width="1.5"/>
<line x1="444.4" y1="256.0" x2="446.4" y2="256.0" stroke="#000" stroke-width="1.5"/>
<line x1="444.4" y1="246.5" x2="446.4" y2="246.5" stroke="#000" stroke-width="1.5"/>
<line x1="450.1" y1="427.4" x2="450.1" y2="429.59999999999997" stroke="#000" stroke-width="1.5"/>
<line x1="459.9" y1="427.4" x2="459.9" y2="429.59999999999997" stroke="#000" stroke-width="1.5"/>
<line x1="469.7" y1="427.4" x2="469.7" y2="431.4" stroke="#000" stroke-width="2"/>
<text x="469.7" y="447.4" font-size="17" fill="#000" font-weight="bold" text-anchor="middle" >500</text>
<line x1="479.5" y1="427.4" x2="479.5" y2="429.59999999999997" stroke="#000" stroke-width="1.5"/>
<line x1="489.3" y1="427.4" x2="489.3" y2="429.59999999999997" stroke="#000" stroke-width="1.5"/>
<line x1="499.0" y1="427.4" x2="499.0" y2="429.59999999999997" stroke="#000" stroke-width="1.5"/>
<line x1="508.8" y1="427.4" x2="508.8" y2="429.59999999999997" stroke="#000" stroke-width="1.5"/>
<line x1="518.6" y1="427.4" x2="518.6" y2="431.4" stroke="#000" stroke-width="2"/>
<text x="518.6" y="447.4" font-size="17" fill="#000" font-weight="bold" text-anchor="middle" >1000</text>
<line x1="528.4" y1="427.4" x2="528.4" y2="429.59999999999997" stroke="#000" stroke-width="1.5"/>
<line x1="538.2" y1="427.4" x2="538.2" y2="429.59999999999997" stroke="#000" stroke-width="1.5"/>
<line x1="547.9" y1="427.4" x2="547.9" y2="429.59999999999997" stroke="#000" stroke-width="1.5"/>
<line x1="557.7" y1="427.4" x2="557.7" y2="429.59999999999997" stroke="#000" stroke-width="1.5"/>
<line x1="567.5" y1="427.4" x2="567.5" y2="431.4" stroke="#000" stroke-width="2"/>
<text x="567.5" y="447.4" font-size="17" fill="#000" font-weight="bold" text-anchor="middle" >1500</text>
<line x1="577.3" y1="427.4" x2="577.3" y2="429.59999999999997" stroke="#000" stroke-width="1.5"/>
<line x1="587.1" y1="427.4" x2="587.1" y2="429.59999999999997" stroke="#000" stroke-width="1.5"/>
<line x1="596.8" y1="427.4" x2="596.8" y2="429.59999999999997" stroke="#000" stroke-width="1.5"/>
<line x1="606.6" y1="427.4" x2="606.6" y2="429.59999999999997" stroke="#000" stroke-width="1.5"/>
<line x1="616.4" y1="427.4" x2="616.4" y2="431.4" stroke="#000" stroke-width="2"/>
<text x="616.4" y="447.4" font-size="17" fill="#000" font-weight="bold" text-anchor="middle" >2000</text>
<line x1="626.2" y1="427.4" x2="626.2" y2="429.59999999999997" stroke="#000" stroke-width="1.5"/>
<line x1="636.0" y1="427.4" x2="636.0" y2="429.59999999999997" stroke="#000" stroke-width="1.5"/>
<line x1="645.7" y1="427.4" x2="645.7" y2="429.59999999999997" stroke="#000" stroke-width="1.5"/>
<line x1="655.5" y1="427.4" x2="655.5" y2="429.59999999999997" stroke="#000" stroke-width="1.5"/>
<line x1="665.3" y1="427.4" x2="665.3" y2="431.4" stroke="#000" stroke-width="2"/>
<text x="665.3" y="447.4" font-size="17" fill="#000" font-weight="bold" text-anchor="middle" >2500</text>
<text x="476.5" y="468.6" font-size="19" fill="#000" font-weight="bold" text-anchor="start" textLength="158" lengthAdjust="spacingAndGlyphs" >Wavelength [nm]</text>
<g transform="translate(407.2,395.8) rotate(-90)"><text x="0" y="0" font-size="19" fill="#000" font-weight="bold" text-anchor="start" textLength="139.5" lengthAdjust="spacingAndGlyphs" >Absorption [%]</text></g>
<path d="M528.7,253 H523.7 V286.5 H528.7" fill="none" stroke="#000" stroke-width="2.2"/><path d="M648.3,253 H653.3 V286.5 H648.3" fill="none" stroke="#000" stroke-width="2.2"/>
<text x="531.5" y="264.1" font-size="13" fill="#000" font-weight="bold" text-anchor="start" textLength="71" lengthAdjust="spacingAndGlyphs" >Dot: theory</text>
<text x="531.5" y="279.4" font-size="13" fill="#000" font-weight="bold" text-anchor="start" textLength="112.5" lengthAdjust="spacingAndGlyphs" >Solid: experiment</text>
<text x="458.2" y="358.0" font-size="12.6" fill="#000" font-weight="bold" text-anchor="start" textLength="74.8" lengthAdjust="spacingAndGlyphs" >Al interband</text>
<text x="465.8" y="373.1" font-size="12.6" fill="#000" font-weight="bold" text-anchor="start" textLength="57.5" lengthAdjust="spacingAndGlyphs" >transition</text>
<line x1="569.4" y1="377.8" x2="598.5" y2="377.8" stroke="#fd6e12" stroke-width="3"/>
<text x="602.4" y="382.6" font-size="13" fill="#000" font-weight="bold" text-anchor="start" >No. 4</text>
<line x1="569.4" y1="394.7" x2="598.5" y2="394.7" stroke="#6a18ec" stroke-width="3"/>
<text x="602.4" y="399.5" font-size="13" fill="#000" font-weight="bold" text-anchor="start" >No. 5</text>
<defs>
<linearGradient id="gz0" x1="0" x2="1" y1="0" y2="0"><stop offset="0" stop-color="#eef3fc"/><stop offset="1" stop-color="#94b6ee"/></linearGradient>
<linearGradient id="gmmo" x1="0" x2="1" y1="0" y2="0"><stop offset="0" stop-color="#f1ecfb"/><stop offset="1" stop-color="#b7a3e6"/></linearGradient>
<linearGradient id="gzm" x1="0" x2="1" y1="0" y2="0"><stop offset="0" stop-color="#f6f6f6"/><stop offset="1" stop-color="#b0b0b0"/></linearGradient>
<linearGradient id="gsph" x1="0" x2="0" y1="0" y2="1"><stop offset="0" stop-color="#c3cfa6"/><stop offset="0.2" stop-color="#cbd5b3"/><stop offset="0.45" stop-color="#dee3d2"/><stop offset="0.55" stop-color="#dbe2ce"/><stop offset="0.8" stop-color="#cdd9b5"/><stop offset="1" stop-color="#c3d4a3"/></linearGradient>
<linearGradient id="gmetal" x1="0" x2="0" y1="0" y2="1"><stop offset="0" stop-color="#e8e8e8"/><stop offset="0.2" stop-color="#d6d6d6"/><stop offset="0.8" stop-color="#cdcdcd"/><stop offset="1" stop-color="#a4a4a4"/></linearGradient>
<linearGradient id="gmetalh" x1="0" x2="1" y1="0" y2="0"><stop offset="0" stop-color="#ffffff" stop-opacity="0"/><stop offset="0.08" stop-color="#ffffff" stop-opacity="0.55"/><stop offset="0.16" stop-color="#ffffff" stop-opacity="0"/><stop offset="0.9" stop-color="#000" stop-opacity="0"/><stop offset="1" stop-color="#000" stop-opacity="0.18"/></linearGradient>
<linearGradient id="gmmos" x1="0" x2="0" y1="0" y2="1"><stop offset="0" stop-color="#e2dbf2"/><stop offset="0.22" stop-color="#d9d1ee"/><stop offset="0.25" stop-color="#c9c0e3"/><stop offset="0.68" stop-color="#c7bfe1"/><stop offset="0.7" stop-color="#dcd6ee"/><stop offset="0.74" stop-color="#c4bcdc"/><stop offset="1" stop-color="#bdb5d7"/></linearGradient>
</defs>
<rect x="50.6" y="3.2" width="35.8" height="24" fill="#fff" stroke="#5591cf" stroke-width="1.1"/>
<text x="70.3" y="20.8" font-size="14.8" fill="#2567b1" font-weight="bold" text-anchor="middle">TE</text>
<rect x="137.6" y="3.2" width="38.8" height="24" fill="#fff" stroke="#5591cf" stroke-width="1.1"/>
<text x="158.2" y="20.8" font-size="14.8" fill="#2567b1" font-weight="bold" text-anchor="middle">TM</text>
<path d="M75.5,168 H232.5 V189 Q232.5,195.6 226,195.6 H82 Q75.5,195.6 75.5,189 Z" fill="url(#gmetal)"/>
<path d="M75.5,168 H232.5 V189 Q232.5,195.6 226,195.6 H82 Q75.5,195.6 75.5,189 Z" fill="url(#gmetalh)"/>
<text x="149.4" y="190.4" font-size="14.8" fill="#000" font-weight="bold" text-anchor="middle" textLength="37.4" lengthAdjust="spacingAndGlyphs">Metal</text>
<path d="M74.3,170 V139 Q74.3,129.6 83.5,129.6 H225.5 Q234.6,129.6 234.6,139 V170 Z" fill="url(#gmmos)"/>
<path d="M74.3,170 V139 Q74.3,129.6 83.5,129.6 H225.5 Q234.6,129.6 234.6,139 V170" fill="none" stroke="#b9b0d6" stroke-width="0.8"/>
<line x1="88.2" y1="133.4" x2="96.0" y2="162.4" stroke="#8b91d2" stroke-width="4.4" stroke-linecap="round"/>
<line x1="88.2" y1="133.4" x2="96.0" y2="162.4" stroke="#b3b9f2" stroke-width="2.9" stroke-linecap="round"/>
<line x1="91.4" y1="141.1" x2="98.9" y2="168.8" stroke="#8b91d2" stroke-width="4.4" stroke-linecap="round"/>
<line x1="91.4" y1="141.1" x2="98.9" y2="168.8" stroke="#b3b9f2" stroke-width="2.9" stroke-linecap="round"/>
<line x1="95.5" y1="149.6" x2="100.7" y2="168.8" stroke="#8b91d2" stroke-width="4.4" stroke-linecap="round"/>
<line x1="95.5" y1="149.6" x2="100.7" y2="168.8" stroke="#b3b9f2" stroke-width="2.9" stroke-linecap="round"/>
<line x1="105.3" y1="132.7" x2="97.5" y2="161.7" stroke="#8b91d2" stroke-width="4.4" stroke-linecap="round"/>
<line x1="105.3" y1="132.7" x2="97.5" y2="161.7" stroke="#b3b9f2" stroke-width="2.9" stroke-linecap="round"/>
<line x1="108.9" y1="140.2" x2="101.2" y2="168.8" stroke="#8b91d2" stroke-width="4.4" stroke-linecap="round"/>
<line x1="108.9" y1="140.2" x2="101.2" y2="168.8" stroke="#b3b9f2" stroke-width="2.9" stroke-linecap="round"/>
<line x1="112.3" y1="148.9" x2="106.9" y2="168.8" stroke="#8b91d2" stroke-width="4.4" stroke-linecap="round"/>
<line x1="112.3" y1="148.9" x2="106.9" y2="168.8" stroke="#b3b9f2" stroke-width="2.9" stroke-linecap="round"/>
<line x1="114.7" y1="131.4" x2="122.5" y2="160.4" stroke="#8b91d2" stroke-width="4.4" stroke-linecap="round"/>
<line x1="114.7" y1="131.4" x2="122.5" y2="160.4" stroke="#b3b9f2" stroke-width="2.9" stroke-linecap="round"/>
<line x1="118.2" y1="138.9" x2="126.0" y2="167.9" stroke="#8b91d2" stroke-width="4.4" stroke-linecap="round"/>
<line x1="118.2" y1="138.9" x2="126.0" y2="167.9" stroke="#b3b9f2" stroke-width="2.9" stroke-linecap="round"/>
<line x1="122.2" y1="147.5" x2="128.0" y2="168.8" stroke="#8b91d2" stroke-width="4.4" stroke-linecap="round"/>
<line x1="122.2" y1="147.5" x2="128.0" y2="168.8" stroke="#b3b9f2" stroke-width="2.9" stroke-linecap="round"/>
<line x1="132.0" y1="130.2" x2="124.2" y2="159.2" stroke="#8b91d2" stroke-width="4.4" stroke-linecap="round"/>
<line x1="132.0" y1="130.2" x2="124.2" y2="159.2" stroke="#b3b9f2" stroke-width="2.9" stroke-linecap="round"/>
<line x1="135.3" y1="137.7" x2="127.5" y2="166.7" stroke="#8b91d2" stroke-width="4.4" stroke-linecap="round"/>
<line x1="135.3" y1="137.7" x2="127.5" y2="166.7" stroke="#b3b9f2" stroke-width="2.9" stroke-linecap="round"/>
<line x1="138.6" y1="146.0" x2="132.4" y2="168.8" stroke="#8b91d2" stroke-width="4.4" stroke-linecap="round"/>
<line x1="138.6" y1="146.0" x2="132.4" y2="168.8" stroke="#b3b9f2" stroke-width="2.9" stroke-linecap="round"/>
<line x1="141.4" y1="133.0" x2="149.2" y2="162.0" stroke="#8b91d2" stroke-width="4.4" stroke-linecap="round"/>
<line x1="141.4" y1="133.0" x2="149.2" y2="162.0" stroke="#b3b9f2" stroke-width="2.9" stroke-linecap="round"/>
<line x1="144.7" y1="140.5" x2="152.3" y2="168.8" stroke="#8b91d2" stroke-width="4.4" stroke-linecap="round"/>
<line x1="144.7" y1="140.5" x2="152.3" y2="168.8" stroke="#b3b9f2" stroke-width="2.9" stroke-linecap="round"/>
<line x1="148.2" y1="149.0" x2="153.5" y2="168.8" stroke="#8b91d2" stroke-width="4.4" stroke-linecap="round"/>
<line x1="148.2" y1="149.0" x2="153.5" y2="168.8" stroke="#b3b9f2" stroke-width="2.9" stroke-linecap="round"/>
<line x1="158.3" y1="132.0" x2="150.5" y2="161.0" stroke="#8b91d2" stroke-width="4.4" stroke-linecap="round"/>
<line x1="158.3" y1="132.0" x2="150.5" y2="161.0" stroke="#b3b9f2" stroke-width="2.9" stroke-linecap="round"/>
<line x1="161.6" y1="139.5" x2="153.8" y2="168.5" stroke="#8b91d2" stroke-width="4.4" stroke-linecap="round"/>
<line x1="161.6" y1="139.5" x2="153.8" y2="168.5" stroke="#b3b9f2" stroke-width="2.9" stroke-linecap="round"/>
<line x1="165.0" y1="147.2" x2="159.2" y2="168.8" stroke="#8b91d2" stroke-width="4.4" stroke-linecap="round"/>
<line x1="165.0" y1="147.2" x2="159.2" y2="168.8" stroke="#b3b9f2" stroke-width="2.9" stroke-linecap="round"/>
<line x1="166.2" y1="131.1" x2="174.0" y2="160.1" stroke="#8b91d2" stroke-width="4.4" stroke-linecap="round"/>
<line x1="166.2" y1="131.1" x2="174.0" y2="160.1" stroke="#b3b9f2" stroke-width="2.9" stroke-linecap="round"/>
<line x1="170.5" y1="138.6" x2="178.3" y2="167.6" stroke="#8b91d2" stroke-width="4.4" stroke-linecap="round"/>
<line x1="170.5" y1="138.6" x2="178.3" y2="167.6" stroke="#b3b9f2" stroke-width="2.9" stroke-linecap="round"/>
<line x1="173.7" y1="147.3" x2="179.5" y2="168.8" stroke="#8b91d2" stroke-width="4.4" stroke-linecap="round"/>
<line x1="173.7" y1="147.3" x2="179.5" y2="168.8" stroke="#b3b9f2" stroke-width="2.9" stroke-linecap="round"/>
<line x1="183.9" y1="130.2" x2="176.1" y2="159.2" stroke="#8b91d2" stroke-width="4.4" stroke-linecap="round"/>
<line x1="183.9" y1="130.2" x2="176.1" y2="159.2" stroke="#b3b9f2" stroke-width="2.9" stroke-linecap="round"/>
<line x1="187.3" y1="137.7" x2="179.5" y2="166.7" stroke="#8b91d2" stroke-width="4.4" stroke-linecap="round"/>
<line x1="187.3" y1="137.7" x2="179.5" y2="166.7" stroke="#b3b9f2" stroke-width="2.9" stroke-linecap="round"/>
<line x1="190.8" y1="146.6" x2="184.8" y2="168.8" stroke="#8b91d2" stroke-width="4.4" stroke-linecap="round"/>
<line x1="190.8" y1="146.6" x2="184.8" y2="168.8" stroke="#b3b9f2" stroke-width="2.9" stroke-linecap="round"/>
<line x1="192.5" y1="130.8" x2="200.3" y2="159.8" stroke="#8b91d2" stroke-width="4.4" stroke-linecap="round"/>
<line x1="192.5" y1="130.8" x2="200.3" y2="159.8" stroke="#b3b9f2" stroke-width="2.9" stroke-linecap="round"/>
<line x1="196.0" y1="138.6" x2="203.8" y2="167.6" stroke="#8b91d2" stroke-width="4.4" stroke-linecap="round"/>
<line x1="196.0" y1="138.6" x2="203.8" y2="167.6" stroke="#b3b9f2" stroke-width="2.9" stroke-linecap="round"/>
<line x1="199.5" y1="147.3" x2="205.3" y2="168.8" stroke="#8b91d2" stroke-width="4.4" stroke-linecap="round"/>
<line x1="199.5" y1="147.3" x2="205.3" y2="168.8" stroke="#b3b9f2" stroke-width="2.9" stroke-linecap="round"/>
<line x1="209.4" y1="130.2" x2="201.6" y2="159.2" stroke="#8b91d2" stroke-width="4.4" stroke-linecap="round"/>
<line x1="209.4" y1="130.2" x2="201.6" y2="159.2" stroke="#b3b9f2" stroke-width="2.9" stroke-linecap="round"/>
<line x1="213.1" y1="137.9" x2="205.3" y2="166.9" stroke="#8b91d2" stroke-width="4.4" stroke-linecap="round"/>
<line x1="213.1" y1="137.9" x2="205.3" y2="166.9" stroke="#b3b9f2" stroke-width="2.9" stroke-linecap="round"/>
<line x1="216.7" y1="146.4" x2="210.7" y2="168.8" stroke="#8b91d2" stroke-width="4.4" stroke-linecap="round"/>
<line x1="216.7" y1="146.4" x2="210.7" y2="168.8" stroke="#b3b9f2" stroke-width="2.9" stroke-linecap="round"/>
<circle cx="88.2" cy="133.4" r="2.2" fill="#fff" stroke="#9a9ab4" stroke-width="0.6"/>
<circle cx="91.4" cy="141.1" r="2.2" fill="#fff" stroke="#9a9ab4" stroke-width="0.6"/>
<circle cx="95.5" cy="149.6" r="2.2" fill="#fff" stroke="#9a9ab4" stroke-width="0.6"/>
<circle cx="105.3" cy="132.7" r="2.2" fill="#fff" stroke="#9a9ab4" stroke-width="0.6"/>
<circle cx="108.9" cy="140.2" r="2.2" fill="#fff" stroke="#9a9ab4" stroke-width="0.6"/>
<circle cx="112.3" cy="148.9" r="2.2" fill="#fff" stroke="#9a9ab4" stroke-width="0.6"/>
<circle cx="114.7" cy="131.4" r="2.2" fill="#fff" stroke="#9a9ab4" stroke-width="0.6"/>
<circle cx="118.2" cy="138.9" r="2.2" fill="#fff" stroke="#9a9ab4" stroke-width="0.6"/>
<circle cx="122.2" cy="147.5" r="2.2" fill="#fff" stroke="#9a9ab4" stroke-width="0.6"/>
<circle cx="132" cy="130.2" r="2.2" fill="#fff" stroke="#9a9ab4" stroke-width="0.6"/>
<circle cx="135.3" cy="137.7" r="2.2" fill="#fff" stroke="#9a9ab4" stroke-width="0.6"/>
<circle cx="138.6" cy="146.0" r="2.2" fill="#fff" stroke="#9a9ab4" stroke-width="0.6"/>
<circle cx="141.4" cy="133" r="2.2" fill="#fff" stroke="#9a9ab4" stroke-width="0.6"/>
<circle cx="144.7" cy="140.5" r="2.2" fill="#fff" stroke="#9a9ab4" stroke-width="0.6"/>
<circle cx="148.2" cy="149.0" r="2.2" fill="#fff" stroke="#9a9ab4" stroke-width="0.6"/>
<circle cx="158.3" cy="132" r="2.2" fill="#fff" stroke="#9a9ab4" stroke-width="0.6"/>
<circle cx="161.6" cy="139.5" r="2.2" fill="#fff" stroke="#9a9ab4" stroke-width="0.6"/>
<circle cx="165.0" cy="147.2" r="2.2" fill="#fff" stroke="#9a9ab4" stroke-width="0.6"/>
<circle cx="166.2" cy="131.1" r="2.2" fill="#fff" stroke="#9a9ab4" stroke-width="0.6"/>
<circle cx="170.5" cy="138.6" r="2.2" fill="#fff" stroke="#9a9ab4" stroke-width="0.6"/>
<circle cx="173.7" cy="147.3" r="2.2" fill="#fff" stroke="#9a9ab4" stroke-width="0.6"/>
<circle cx="183.9" cy="130.2" r="2.2" fill="#fff" stroke="#9a9ab4" stroke-width="0.6"/>
<circle cx="187.3" cy="137.7" r="2.2" fill="#fff" stroke="#9a9ab4" stroke-width="0.6"/>
<circle cx="190.8" cy="146.6" r="2.2" fill="#fff" stroke="#9a9ab4" stroke-width="0.6"/>
<circle cx="192.5" cy="130.8" r="2.2" fill="#fff" stroke="#9a9ab4" stroke-width="0.6"/>
<circle cx="196" cy="138.6" r="2.2" fill="#fff" stroke="#9a9ab4" stroke-width="0.6"/>
<circle cx="199.5" cy="147.3" r="2.2" fill="#fff" stroke="#9a9ab4" stroke-width="0.6"/>
<circle cx="209.4" cy="130.2" r="2.2" fill="#fff" stroke="#9a9ab4" stroke-width="0.6"/>
<circle cx="213.1" cy="137.9" r="2.2" fill="#fff" stroke="#9a9ab4" stroke-width="0.6"/>
<circle cx="216.7" cy="146.4" r="2.2" fill="#fff" stroke="#9a9ab4" stroke-width="0.6"/>
<text x="149.2" y="154" font-size="14.8" fill="#000" font-weight="bold" text-anchor="middle" textLength="35.2" lengthAdjust="spacingAndGlyphs">MMO</text>
<line x1="113.2" y1="50.5" x2="113.2" y2="141.5" stroke="#000" stroke-width="1.9" stroke-dasharray="4.6,2.6"/>
<line x1="199.3" y1="56.5" x2="199.3" y2="146.5" stroke="#000" stroke-width="1.9" stroke-dasharray="4.6,2.6"/>
<path d="M113.0,94.5 L98.9,73.9 A25,25 0 0 1 113.0,69.5 Z" fill="#dae5f4"/><path d="M98.9,73.9 A25,25 0 0 1 113.0,69.5" fill="none" stroke="#5585c0" stroke-width="1"/>
<path d="M198.8,93.0 L184.4,73.8 A24,24 0 0 1 198.8,69.0 Z" fill="#dae5f4"/><path d="M184.4,73.8 A24,24 0 0 1 198.8,69.0" fill="none" stroke="#5585c0" stroke-width="1"/>
<line x1="86.3" y1="55.5" x2="109.2" y2="40.0" stroke="#c2464b" stroke-width="2.8" stroke-linecap="round"/><path d="M114.2,36.6 L110.0,43.7 L109.5,39.8 L106.0,37.9 Z" fill="#c2464b"/>
<line x1="86.3" y1="55.5" x2="76.9" y2="57.3" stroke="#c2464b" stroke-width="2.8" stroke-linecap="round"/><path d="M71.0,58.4 L77.7,53.6 L76.6,57.3 L79.0,60.4 Z" fill="#c2464b"/>
<line x1="86.3" y1="55.5" x2="109.4" y2="89.3" stroke="#c2464b" stroke-width="2.8" stroke-linecap="round"/><path d="M112.8,94.3 L105.7,90.1 L109.6,89.6 L111.5,86.1 Z" fill="#c2464b"/>
<line x1="171.0" y1="55.8" x2="193.8" y2="40.6" stroke="#c2464b" stroke-width="2.8" stroke-linecap="round"/><path d="M198.8,37.3 L194.5,44.4 L194.1,40.5 L190.6,38.5 Z" fill="#c2464b"/>
<line x1="171.0" y1="55.8" x2="162.2" y2="57.6" stroke="#c2464b" stroke-width="2.8" stroke-linecap="round"/><path d="M156.3,58.8 L162.9,53.9 L161.9,57.7 L164.3,60.7 Z" fill="#c2464b"/>
<line x1="171.0" y1="55.8" x2="193.7" y2="87.9" stroke="#c2464b" stroke-width="2.8" stroke-linecap="round"/><path d="M197.2,92.8 L190.0,88.7 L193.9,88.1 L195.7,84.7 Z" fill="#c2464b"/>
<text x="97.9" y="31.6" font-size="15" fill="#000" font-weight="bold" text-anchor="start" textLength="12.9" lengthAdjust="spacingAndGlyphs" font-style="italic" font-family='"Liberation Serif", serif'>H</text>
<path d="M102.8,18.0 L105.0,15.4 L107.2,18.0" fill="none" stroke="#000" stroke-width="1.35"/>
<text x="59.6" y="50.8" font-size="15" fill="#000" font-weight="bold" text-anchor="start" font-style="italic" font-family='"Liberation Serif", serif'>E</text>
<path d="M64.7,37.4 L66.9,34.8 L69.1,37.4" fill="none" stroke="#000" stroke-width="1.35"/>
<text x="97.6" y="65.7" font-size="14.5" fill="#000" font-weight="bold" text-anchor="start" font-style="italic" font-family='"Liberation Serif", serif'>θ</text>
<text x="80.3" y="88.3" font-size="15" fill="#000" font-weight="bold" text-anchor="start" font-style="italic" font-family='"Liberation Serif", serif'>k</text>
<path d="M83.1,75.2 L85.3,72.6 L87.5,75.2" fill="none" stroke="#000" stroke-width="1.35"/>
<text x="194.3" y="33.3" font-size="15" fill="#000" font-weight="bold" text-anchor="start" font-style="italic" font-family='"Liberation Serif", serif'>E</text>
<path d="M199.4,20.2 L201.6,17.6 L203.8,20.2" fill="none" stroke="#000" stroke-width="1.35"/>
<text x="148.2" y="50.4" font-size="15" fill="#000" font-weight="bold" text-anchor="start" textLength="12.9" lengthAdjust="spacingAndGlyphs" font-style="italic" font-family='"Liberation Serif", serif'>H</text>
<path d="M153.0,38.0 L155.2,35.4 L157.4,38.0" fill="none" stroke="#000" stroke-width="1.35"/>
<text x="185.4" y="68.6" font-size="14.5" fill="#000" font-weight="bold" text-anchor="start" font-style="italic" font-family='"Liberation Serif", serif'>θ</text>
<text x="169" y="88.1" font-size="15" fill="#000" font-weight="bold" text-anchor="start" font-style="italic" font-family='"Liberation Serif", serif'>k</text>
<path d="M171.8,75.0 L174.0,72.4 L176.2,75.0" fill="none" stroke="#000" stroke-width="1.35"/>
<text x="137.5" y="103.6" font-size="14.8" fill="#000" font-weight="bold" text-anchor="start">Air</text>
<circle cx="353.1" cy="110.6" r="44.3" fill="url(#gsph)"/>
<path d="M308.8,109.5 A44.3,44.3 0 0 0 347.8,154.6" fill="none" stroke="#000" stroke-width="3"/>
<path d="M359.8,154.4 A44.3,44.3 0 1 0 311.3,96.0" fill="none" stroke="#000" stroke-width="3"/>
<rect x="346.4" y="153.6" width="2.9" height="14.1" fill="#000"/>
<rect x="358.4" y="153.4" width="2.9" height="14.3" fill="#000"/>
<rect x="349.3" y="153.5" width="9.1" height="6" fill="#d6d6d6"/>
<rect x="351.2" y="158.2" width="5.2" height="10.3" fill="#000"/>
<rect x="386.4" y="100.8" width="9.6" height="22.6" rx="2" fill="#f5b400"/>
<path d="M268.1,99 L386.6,111.2 L338.7,125.7" fill="none" stroke="#e8201e" stroke-width="1.7" stroke-linejoin="miter"/>
<path d="M346.6,120 L338.7,125.7 L347.6,128" fill="none" stroke="#e8201e" stroke-width="1.7"/>
<text x="335.2" y="100.6" font-size="14.8" fill="#000" font-weight="bold" text-anchor="start" textLength="54.6" lengthAdjust="spacingAndGlyphs">Sample</text>
<text x="236.6" y="92.3" font-size="14.8" fill="#000" font-weight="bold" text-anchor="start" textLength="70.2" lengthAdjust="spacingAndGlyphs">Incidence</text>
<text x="277.0" y="166.6" font-size="14.8" fill="#000" font-weight="bold" text-anchor="start" textLength="61.4" lengthAdjust="spacingAndGlyphs">Detector</text>
<line x1="517" y1="83.6" x2="526" y2="83.6" stroke="#111" stroke-width="1.6"/>
<line x1="560" y1="83.6" x2="568.5" y2="83.6" stroke="#111" stroke-width="1.6"/>
<line x1="519" y1="140.6" x2="528" y2="140.6" stroke="#111" stroke-width="1.6"/>
<line x1="562" y1="140.6" x2="570" y2="140.6" stroke="#111" stroke-width="1.6"/>
<path d="M449.8,77.0 H514.8 A3.2,6.9 0 0 1 514.8,90.8 H449.8 Z" fill="url(#gz0)" stroke="#1e2a3e" stroke-width="1.1"/><ellipse cx="449.8" cy="83.9" rx="3.2" ry="6.9" fill="#fbfbff" stroke="#1e2a3e" stroke-width="1.1"/>
<path d="M528.6,77.2 H557.4 A3.2,6.9 0 0 1 557.4,91.0 H528.6 Z" fill="url(#gmmo)" stroke="#2e2640" stroke-width="1.1"/><ellipse cx="528.6" cy="84.1" rx="3.2" ry="6.9" fill="#fbfbff" stroke="#2e2640" stroke-width="1.1"/>
<path d="M570.6,77.3 H644.6 A3.2,7.0 0 0 1 644.6,91.2 H570.6 Z" fill="url(#gzm)" stroke="#222" stroke-width="1.1"/><ellipse cx="570.6" cy="84.2" rx="3.2" ry="7.0" fill="#fbfbff" stroke="#222" stroke-width="1.1"/>
<path d="M450.0,133.9 H516.7 A3.2,6.8 0 0 1 516.7,147.4 H450.0 Z" fill="url(#gz0)" stroke="#1e2a3e" stroke-width="1.1"/><ellipse cx="450.0" cy="140.7" rx="3.2" ry="6.8" fill="#fbfbff" stroke="#1e2a3e" stroke-width="1.1"/>
<path d="M530.0,133.9 H559.5 A3.2,6.8 0 0 1 559.5,147.4 H530.0 Z" fill="url(#gmmo)" stroke="#2e2640" stroke-width="1.1"/><ellipse cx="530.0" cy="140.7" rx="3.2" ry="6.8" fill="#fbfbff" stroke="#2e2640" stroke-width="1.1"/>
<path d="M572.0,133.8 H644.6 A3.2,6.8 0 0 1 644.6,147.5 H572.0 Z" fill="url(#gzm)" stroke="#222" stroke-width="1.1"/><ellipse cx="572.0" cy="140.7" rx="3.2" ry="6.8" fill="#fbfbff" stroke="#222" stroke-width="1.1"/>
<text x="529.8" y="64.6" font-size="14" fill="#000" font-weight="bold" text-anchor="start" textLength="7.0" lengthAdjust="spacingAndGlyphs" font-style="italic" font-family='"Liberation Serif", serif'>I</text>
<line x1="528" y1="72.1" x2="551" y2="72.1" stroke="#000" stroke-width="1.9"/>
<path d="M546.8,68.2 L551.8,72.1 L546.8,76" fill="none" stroke="#000" stroke-width="1.9"/>
<path d="M512,95.6 H519.2 M515.6,92 V99.3" stroke="#000" stroke-width="1.9"/>
<line x1="513.6" y1="129.2" x2="517.8" y2="129.2" stroke="#000" stroke-width="2"/>
<text x="508.8" y="118.2" font-size="14.5" fill="#000" font-weight="normal" text-anchor="start" textLength="11.6" lengthAdjust="spacingAndGlyphs" font-style="italic" font-family='"Liberation Serif", serif'>V</text>
<text x="508.8" y="118.2" font-size="14.5" font-family='"Liberation Serif", serif' font-style="italic" textLength="11.6" lengthAdjust="spacingAndGlyphs" fill="none" stroke="#000" stroke-width="0.45">V</text>
<text x="468.3" y="113.6" font-size="14" fill="#000" font-weight="bold" text-anchor="start" textLength="12.3" lengthAdjust="spacingAndGlyphs" font-style="italic" font-family='"Liberation Serif", serif'>Z</text>
<text x="479.4" y="116.5" font-size="10" fill="#000" font-weight="bold" text-anchor="start" font-family='"Liberation Serif", serif'>0</text>
<text x="527.4" y="108.1" font-size="14" fill="#000" font-weight="bold" text-anchor="start" textLength="11.8" lengthAdjust="spacingAndGlyphs" font-style="italic" font-family='"Liberation Serif", serif'>Z</text>
<text x="538.2" y="111.2" font-size="9.6" fill="#000" font-weight="bold" text-anchor="start" textLength="25.8" lengthAdjust="spacingAndGlyphs" font-family='"Liberation Serif", serif'>MMO</text>
<text x="527.8" y="125.3" font-size="15" fill="#000" font-weight="bold" text-anchor="start" textLength="10.5" lengthAdjust="spacingAndGlyphs" font-style="italic" font-family='"Liberation Serif", serif'>β</text>
<text x="537.8" y="128.6" font-size="9.6" fill="#000" font-weight="bold" text-anchor="start" textLength="25.4" lengthAdjust="spacingAndGlyphs" font-family='"Liberation Serif", serif'>MMO</text>
<text x="596.5" y="114.1" font-size="14" fill="#000" font-weight="bold" text-anchor="start" textLength="12.3" lengthAdjust="spacingAndGlyphs" font-style="italic" font-family='"Liberation Serif", serif'>Z</text>
<text x="607.8" y="116.5" font-size="9.5" fill="#000" font-weight="bold" text-anchor="start" font-family='"Liberation Serif", serif'>m</text>
<path d="M506.3,168.9 V142.2 H519" fill="none" stroke="#ee1111" stroke-width="1.9"/>
<path d="M525.2,141.6 L517.6,137.2 L517.6,146.2 Z" fill="#ee1111"/>
<text x="488.3" y="163.8" font-size="16.5" fill="#ee1111" font-weight="bold" text-anchor="start" textLength="12.6" lengthAdjust="spacingAndGlyphs" font-style="italic" font-family='"Liberation Serif", serif'>Γ</text>
<line x1="531" y1="153.9" x2="560.5" y2="153.9" stroke="#000" stroke-width="1.8"/>
<path d="M529.4,153.9 L535.4,150.6 L535.4,157.2 Z M562.1,153.9 L556.1,150.6 L556.1,157.2 Z" fill="#000"/>
<text x="540.4" y="168.2" font-size="14.5" fill="#000" font-weight="bold" text-anchor="start" textLength="5.2" lengthAdjust="spacingAndGlyphs" font-style="italic" font-family='"Liberation Serif", serif'>l</text>
</svg></body></html>
